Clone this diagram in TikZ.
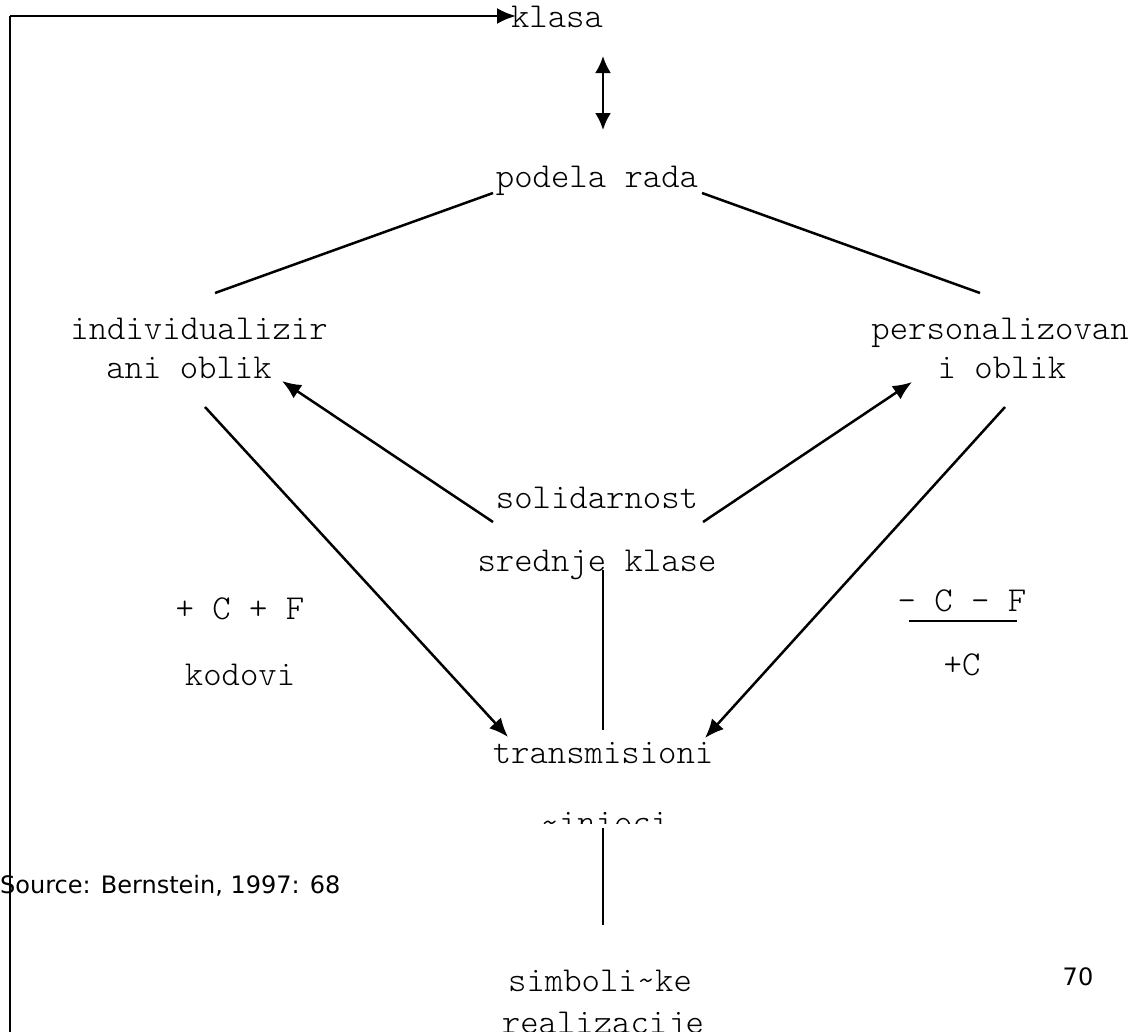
\documentclass[tikz,border=0pt]{standalone}
\usepackage{fontspec}
\newfontfamily\srcfont{DejaVu Sans}
\usetikzlibrary{arrows.meta}
\begin{document}
\begin{tikzpicture}[x=1pt,y=-1pt,
  lbl/.style={anchor=base,inner sep=0pt,font=\ttfamily\fontseries{l}\fontsize{35}{35}\selectfont},
  src/.style={anchor=base west,inner sep=0pt,font=\srcfont\fontsize{24}{24}\selectfont},
  conn/.style={line width=2.5pt},
  arr/.style={conn,-{Latex[length=19pt,width=16pt]}},
  darr/.style={conn,{Latex[length=17pt,width=16pt]}-{Latex[length=17pt,width=16pt]}}]
\useasboundingbox (0,0) rectangle (1131,1031);
\clip (0,0) rectangle (1131,1031);
% text nodes
\node[lbl] (klasa) at (557,27) {klasa};
\node[lbl] (podela) at (597,187) {podela rada};
\node[lbl] (ind1) at (199,339) {individualizir};
\node[lbl] (ind2) at (189,378) {ani oblik};
\node[lbl] (per1) at (1000,339) {personalizovan};
\node[lbl] (per2) at (1002,378) {i oblik};
\node[lbl] (sol1) at (597,508) {solidarnost};
\node[lbl] (sol2) at (597,571) {srednje klase};
\node[lbl] (cf) at (240,619) {+ C + F};
\node[lbl] (kod) at (240,685) {kodovi};
\node[lbl] (mcf) at (962,611) {– C - F};
\node[lbl] (pc) at (962,675) {+C};
\node[lbl] (tr1) at (603,763) {transmisioni};
\begin{scope}
  \clip (400,700) rectangle (800,823);
  \node[lbl] (tr2) at (605,833) {\char"7E inioci};
\end{scope}
\node[lbl] (sim1) at (600,991) {simboli\char"7E ke};
\node[lbl] (sim2) at (603,1033) {realizacije};
\node[src] (source) at (0,893) {Source: Bernstein, 1997: 68};
\node[src,anchor=base] (page) at (1078,985) {70};
% coordinates
\coordinate (lt) at (10,16);
\coordinate (lb) at (10,1040);
\coordinate (ka) at (516,16);
\coordinate (da1) at (603,56);
\coordinate (da2) at (603,130);
\coordinate (pl) at (493,193);
\coordinate (il) at (215,293);
\coordinate (pr) at (702,193);
\coordinate (ir) at (980,293);
\coordinate (s1) at (493,522);
\coordinate (ia) at (282,381);
\coordinate (s2) at (703,522);
\coordinate (pa) at (912,382);
\coordinate (i3) at (205,407);
\coordinate (t1) at (508,737);
\coordinate (p3) at (1005,407);
\coordinate (t2) at (705,738);
\coordinate (v1) at (603,570);
\coordinate (v2) at (603,730);
\coordinate (v3) at (603,828);
\coordinate (v4) at (603,925);
\coordinate (u1) at (909,621);
\coordinate (u2) at (1017,621);
% connectors
\draw[conn] (lb) -- (lt);
\draw[arr] (lt) -- (ka);
\draw[darr] (da1) -- (da2);
\draw[conn] (pl) -- (il);
\draw[conn] (pr) -- (ir);
\draw[arr] (s1) -- (ia);
\draw[arr] (s2) -- (pa);
\draw[arr] (i3) -- (t1);
\draw[arr] (p3) -- (t2);
\draw[conn] (v1) -- (v2);
\draw[conn] (v3) -- (v4);
\draw[conn] (u1) -- (u2);
\end{tikzpicture}
\end{document}
